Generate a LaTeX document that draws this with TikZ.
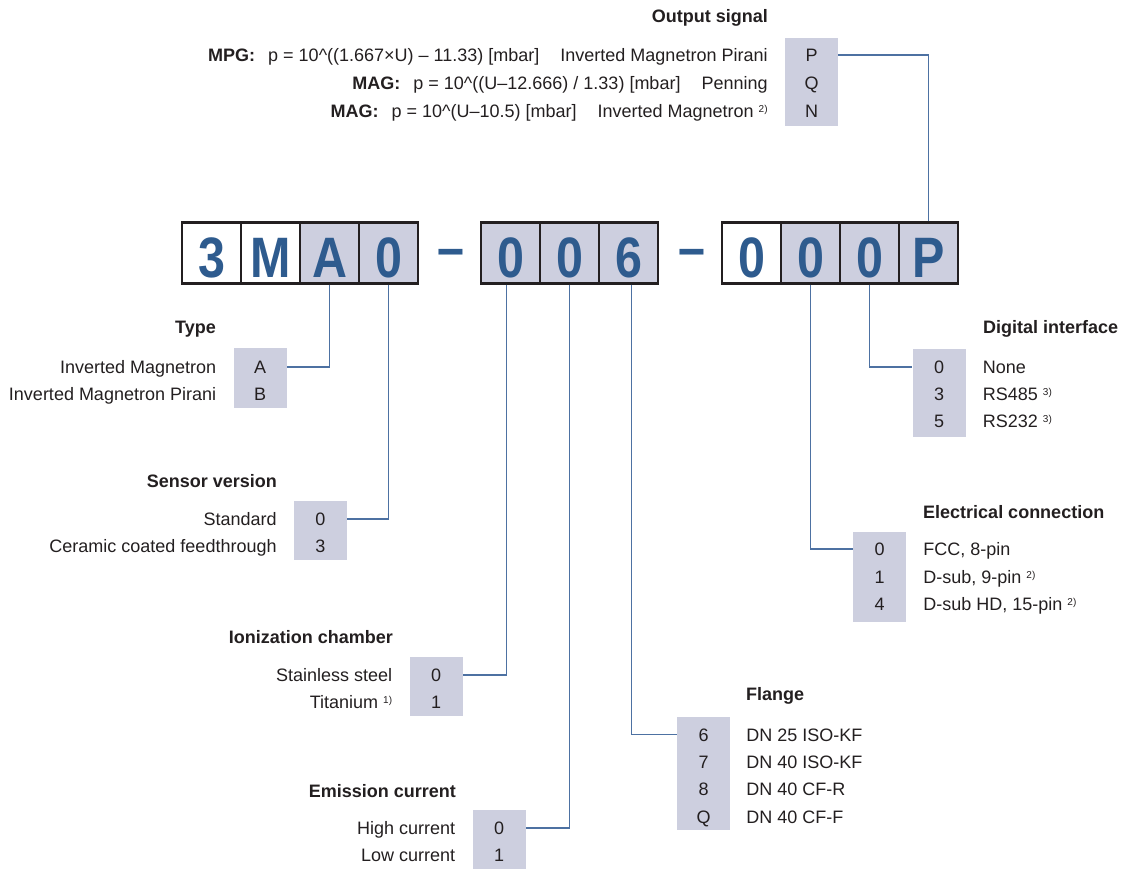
\documentclass[tikz,border=0pt]{standalone}
\usepackage{fontspec}
\setmainfont{Liberation Sans}
\newfontfamily\codefont[FakeStretch=0.85]{Liberation Sans}
\usetikzlibrary{positioning}

\definecolor{codeblue}{HTML}{2E5B8E}
\definecolor{linkblue}{HTML}{4D71A2}
\definecolor{optgray}{HTML}{CDCFDF}
\definecolor{inkdark}{HTML}{231F20}

\newcommand\fnote[1]{\ \raisebox{5pt}{\fontsize{10}{10}\selectfont #1}}

\tikzset{
  codebox/.style={draw=inkdark, line width=2.4pt, minimum width=59pt, minimum height=61pt,
    inner sep=0pt, text=codeblue, font=\codefont\bfseries\fontsize{57}{57}\selectfont,
    text height=49pt, text depth=0pt},
  codedash/.style={inner sep=0pt, text=codeblue, font=\codefont\bfseries\fontsize{57}{57}\selectfont},
  optbox/.style={fill=optgray, minimum width=53pt, inner sep=0pt},
  optcode/.style={minimum width=53pt, inner sep=0pt, text height=13pt, text depth=0pt},
  optlabel/.style={inner sep=0pt, text height=13pt, text depth=0pt},
  heading/.style={inner sep=0pt, font=\fontsize{18}{22}\selectfont\bfseries},
  link/.style={draw=linkblue, line width=1.4pt}
}

\begin{document}
\begin{tikzpicture}[x=1pt, y=-1pt,
    every node/.style={text=inkdark, font=\fontsize{18}{22}\selectfont}]
  \useasboundingbox (0,0) rectangle (1124,869);

  % order code
  \foreach \n/\d/\x/\f in {c3/3/211.5/white, cM/M/270.5/white, cA/A/329.5/optgray, c0a/0/388.5/optgray,
      c0b/0/510.5/optgray, c0c/0/569.5/optgray, c6/6/628.5/optgray,
      c0e/0/751.5/white, c0f/0/810.5/optgray, c0g/0/869.5/optgray, cP/P/928.5/optgray}
    \node[codebox, fill=\f] (\n) at (\x,253) {\d};
  \node[codedash] (dash1) at (450.5,258) {–};
  \node[codedash] (dash2) at (692,258) {–};

  % output signal
  \node[optbox, minimum height=88pt] (outbox) at (811.5,82) {};
  \node[optcode] (out1) at (811.5,55) {P};
  \node[optcode] (out2) at (811.5,83) {Q};
  \node[optcode] (out3) at (811.5,111) {N};
  \node[optlabel, left=17pt of out1] (outl1) {\textbf{MPG:}\hspace{13pt}p = 10\textasciicircum((1.667×U) – 11.33) [mbar]\hspace{21pt}Inverted Magnetron Pirani};
  \node[optlabel, left=17pt of out2] (outl2) {\textbf{MAG:}\hspace{13pt}p = 10\textasciicircum((U–12.666) / 1.33) [mbar]\hspace{21pt}Penning};
  \node[optlabel, left=17pt of out3] (outl3) {\textbf{MAG:}\hspace{13pt}p = 10\textasciicircum(U–10.5) [mbar]\hspace{21pt}Inverted Magnetron\fnote{2)}};
  \node[heading, anchor=east] (outhead) at (768,18) {Output signal};

  % type
  \node[optbox, minimum height=60pt] (typebox) at (260,378) {};
  \foreach \c/\t [count=\i] in {A/Inverted Magnetron, B/Inverted Magnetron Pirani} {
    \node[optcode] (type\i) at (260,{340+27*\i}) {\c};
    \node[optlabel, left=17pt of type\i] (typel\i) {\t};
  }
  \node[heading, anchor=east] (typehead) at (216,329) {Type};

  % sensor version
  \node[optbox, minimum height=59pt] (sensbox) at (320.5,530.5) {};
  \foreach \c/\t [count=\i] in {0/Standard, 3/Ceramic coated feedthrough} {
    \node[optcode] (sens\i) at (320.5,{492+27*\i}) {\c};
    \node[optlabel, left=17pt of sens\i] (sensl\i) {\t};
  }
  \node[heading, anchor=east] (senshead) at (277,481) {Sensor version};

  % ionization chamber
  \node[optbox, minimum height=59pt] (ionbox) at (436,686.5) {};
  \foreach \c/\t [count=\i] in {0/Stainless steel, 1/Titanium\fnote{1)}} {
    \node[optcode] (ion\i) at (436,{648+27*\i}) {\c};
    \node[optlabel, left=17pt of ion\i] (ionl\i) {\t};
  }
  \node[heading, anchor=east] (ionhead) at (393,637) {Ionization chamber};

  % emission current
  \node[optbox, minimum height=59pt] (emibox) at (499,839.5) {};
  \foreach \c/\t [count=\i] in {0/High current, 1/Low current} {
    \node[optcode] (emi\i) at (499,{801+27*\i}) {\c};
    \node[optlabel, left=17pt of emi\i] (emil\i) {\t};
  }
  \node[heading, anchor=east] (emihead) at (456,791) {Emission current};

  % flange
  \node[optbox, minimum height=113pt] (flabox) at (703.5,773.5) {};
  \foreach \c/\t [count=\i] in {6/DN 25 ISO-KF, 7/DN 40 ISO-KF, 8/DN 40 CF-R, Q/DN 40 CF-F} {
    \node[optcode] (fla\i) at (703.5,{707.5+27.25*\i}) {\c};
    \node[optlabel, right=16pt of fla\i] (flal\i) {\t};
  }
  \node[heading, anchor=west] (flahead) at (746,696) {Flange};

  % electrical connection
  \node[optbox, minimum height=90pt] (elebox) at (879.5,577) {};
  \foreach \c/\t [count=\i] in {0/{FCC, 8-pin}, 1/{D-sub, 9-pin\fnote{2)}}, 4/{D-sub HD, 15-pin\fnote{2)}}} {
    \node[optcode] (ele\i) at (879.5,{521.5+27.5*\i}) {\c};
    \node[optlabel, right=17pt of ele\i] (elel\i) {\t};
  }
  \node[heading, anchor=west] (elehead) at (923,512) {Electrical connection};

  % digital interface
  \node[optbox, minimum height=88pt] (digbox) at (939,393) {};
  \foreach \c/\t [count=\i] in {0/None, 3/RS485\fnote{3)}, 5/RS232\fnote{3)}} {
    \node[optcode] (dig\i) at (939,{340+27*\i}) {\c};
    \node[optlabel, right=17pt of dig\i] (digl\i) {\t};
  }
  \node[heading, anchor=west] (dighead) at (983,329) {Digital interface};

  % links
  \draw[link] (cP.north) |- (out1.east);
  \draw[link] (cA.south) |- (type1.east);
  \draw[link] (c0a.south) |- (sens1.east);
  \draw[link] ([xshift=-4pt]c0b.south) |- (ion1.east);
  \draw[link] (c0c.south) |- (emi1.east);
  \draw[link] ([xshift=3pt]c6.south) |- (fla1.west);
  \draw[link] (c0f.south) |- (ele1.west);
  \draw[link] (c0g.south) |- (dig1.west);
\end{tikzpicture}
\end{document}
